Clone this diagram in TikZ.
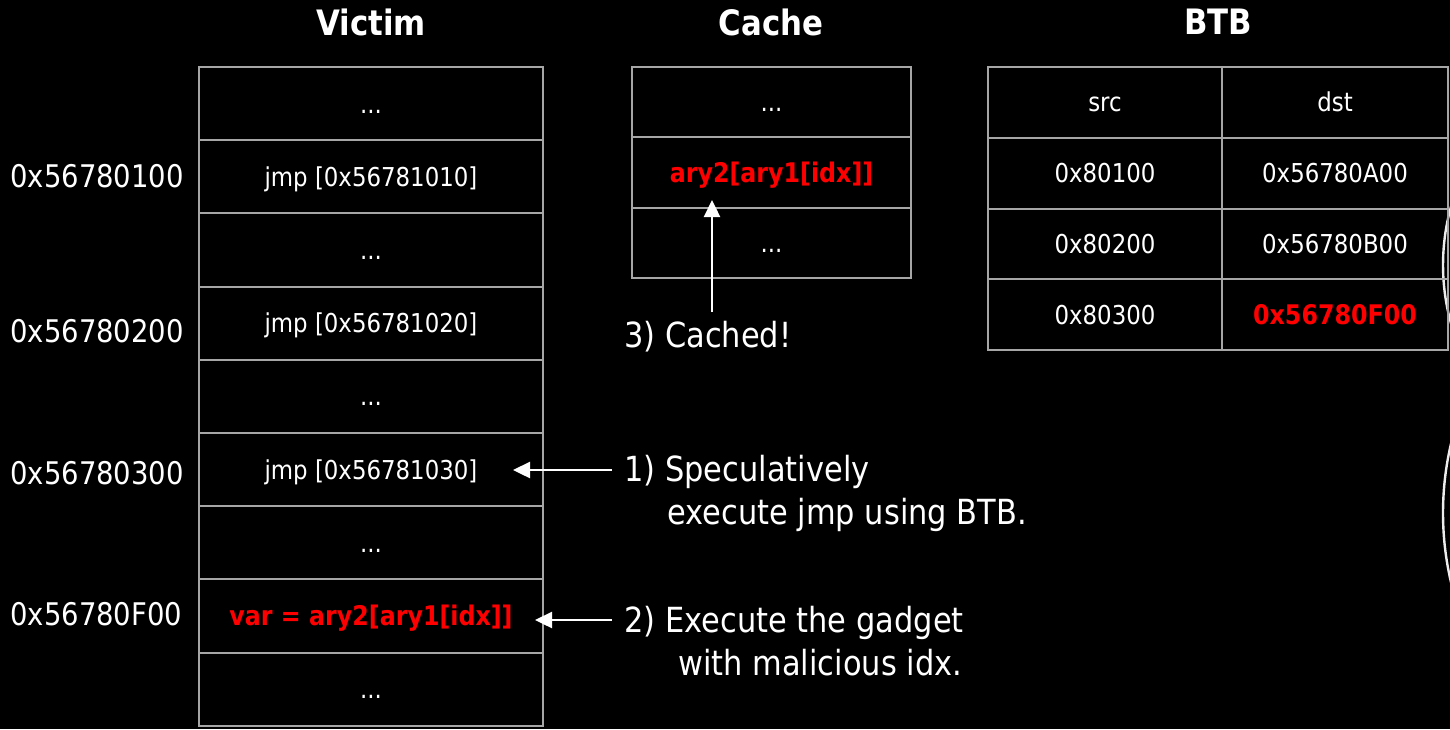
\documentclass[tikz,border=0pt]{standalone}
\usepackage{fontspec}
\setmainfont[FakeStretch=0.88]{DejaVu Sans}
\usetikzlibrary{arrows.meta}

\definecolor{cellgray}{HTML}{A6A6A6}
\definecolor{hotred}{HTML}{FF0000}

\begin{document}
\begin{tikzpicture}[
    x=0.5pt, y=-0.5pt,
    cell/.style={draw=cellgray, line width=1pt, inner sep=0pt,
        text height=9.5pt, text depth=0pt,
        text=white, font=\fontsize{13}{15}\selectfont},
    vcell/.style={cell, minimum width=172pt, minimum height=36.6pt},
    ccell/.style={cell, minimum width=139.5pt, minimum height=35.17pt},
    scell/.style={cell, minimum width=117pt, minimum height=35.4pt},
    dcell/.style={cell, minimum width=113pt, minimum height=35.4pt},
    hot/.style={text=hotred, font=\bfseries\fontsize{13.5}{15}\selectfont},
    title/.style={text=white, font=\bfseries\fontsize{17.5}{21}\selectfont},
    addr/.style={anchor=west, inner sep=0pt, text=white,
        font=\fontsize{15.6}{18}\selectfont},
    note/.style={anchor=base west, inner sep=0pt, text=white, align=left,
        font=\fontsize{17.3}{21.5}\selectfont},
    link/.style={white, line width=1.2pt, -{Triangle[length=8.5pt, width=8pt]}}
]
    \fill[black] (0,0) rectangle (1450,729);
    \useasboundingbox (0,0) rectangle (1450,729);

    % edges of shapes cut off at the right
    \draw[white!85!gray, line width=1.2pt] (1659,265) circle[radius=108pt];
    \draw[white!85!gray, line width=1.2pt] (1745,513) circle[radius=151pt];

    % titles
    \node[title] (victim) at (371,22) {Victim};
    \node[title] (cache) at (771,22) {Cache};
    \node[title] (btb) at (1218,22) {BTB};

    % victim memory
    \node[vcell] (v1) at (371,103.5) {...};
    \node[vcell] (v2) at (371,176.7) {jmp [0x56781010]};
    \node[vcell] (v3) at (371,249.9) {...};
    \node[vcell] (v4) at (371,323.1) {jmp [0x56781020]};
    \node[vcell] (v5) at (371,396.3) {...};
    \node[vcell] (v6) at (371,469.5) {jmp [0x56781030]};
    \node[vcell] (v7) at (371,542.7) {...};
    \node[vcell, hot] (v8) at (371,615.9) {var = ary2[ary1[idx]]};
    \node[vcell] (v9) at (371,689.1) {...};

    \node[addr] (a1) at (10,176) {0x56780100};
    \node[addr] (a2) at (10,331) {0x56780200};
    \node[addr] (a3) at (10,473) {0x56780300};
    \node[addr] (a4) at (10,614) {0x56780F00};

    % cache lines
    \node[ccell] (c1) at (771.5,102.2) {...};
    \node[ccell, hot] (c2) at (771.5,172.5) {ary2[ary1[idx]]};
    \node[ccell] (c3) at (771.5,242.8) {...};

    % branch target buffer
    \node[scell] (s0) at (1105,102.4) {src};
    \node[dcell] (d0) at (1335,102.4) {dst};
    \node[scell] (s1) at (1105,173.1) {0x80100};
    \node[dcell] (d1) at (1335,173.1) {0x56780A00};
    \node[scell] (s2) at (1105,243.9) {0x80200};
    \node[dcell] (d2) at (1335,243.9) {0x56780B00};
    \node[scell] (s3) at (1105,314.6) {0x80300};
    \node[dcell, hot] (d3) at (1335,314.6) {0x56780F00};

    % steps
    \node[note] (n1) at (624,524) {1) Speculatively\\\hspace*{21.5pt}execute jmp using BTB.};
    \node[note] (n2) at (624,675) {2) Execute the gadget\\\hspace*{27pt}with malicious idx.};
    \node[note] (n3) at (624,347) {3) Cached!};

    \coordinate (f1) at (612,470);
    \coordinate (t1) at (513,470);
    \coordinate (f2) at (612,620);
    \coordinate (t2) at (535,620);
    \coordinate (f3) at (712,312);
    \coordinate (t3) at (712,200);
    \draw[link] (f1) -- (t1);
    \draw[link] (f2) -- (t2);
    \draw[link] (f3) -- (t3);
\end{tikzpicture}
\end{document}
